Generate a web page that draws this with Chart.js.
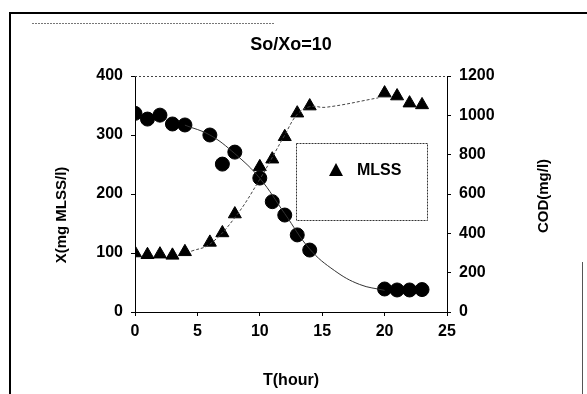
<!DOCTYPE html>
<html>
<head>
<meta charset="utf-8">
<script src="https://cdn.jsdelivr.net/npm/chart.js@4.4.0/dist/chart.umd.min.js"></script>
<style>
  body { margin: 0; background: #fff; }
  #wrap { width: 587px; height: 394px; }
</style>
</head>
<body>
<div id="wrap"><canvas id="grafico" width="587" height="394"></canvas></div>
<script>
// datos
const tiempoMLSS = [0, 1, 2, 3, 4, 6, 7, 8, 10, 11, 12, 13, 14, 20, 21, 22, 23];
const mlss = [100, 97, 98, 96, 102, 118, 134, 166, 246, 259, 297, 337, 349, 371, 366, 354, 351];

const tiempoCOD = [0, 1, 2, 3, 4, 6, 7, 8, 10, 11, 12, 13, 14, 20, 21, 22, 23];
const cod = [1010, 981, 1001, 956, 951, 900, 752, 813, 681, 561, 493, 392, 315, 117, 112, 112, 114];

// curvas de ajuste dibujadas en la figura
const tiempoAjusteMLSS = [4.5, 6, 8, 10, 12, 13, 14, 15.3, 19.5];
const ajusteMLSS = [103, 115, 160, 225, 300, 335, 348, 347, 363];
const tiempoAjusteCOD = [4, 6, 8, 10, 12, 14, 16, 18, 20];
const ajusteCOD = [950, 900, 805, 680, 500, 320, 210, 140, 110];

const ticksX = [0, 5, 10, 15, 20, 25];
const ticksIzq = [0, 100, 200, 300, 400];
const ticksDer = [0, 200, 400, 600, 800, 1000, 1200];

const pares = (xs, ys) => xs.map((x, i) => ({ x: x, y: ys[i] }));
const familia = '"Liberation Sans", Arial, sans-serif';

const decoracion = {
    id: 'decoracion',
    afterDraw(chart) {
        const c = chart.ctx;
        const a = chart.chartArea;
        c.save();
        // marco de la pagina escaneada
        c.strokeStyle = '#000';
        c.lineWidth = 2;
        c.beginPath();
        c.moveTo(10, 394); c.lineTo(10, 13); c.lineTo(587, 13);
        c.stroke();
        c.lineWidth = 1;
        c.strokeStyle = '#555';
        c.beginPath();
        c.moveTo(582.5, 262); c.lineTo(582.5, 394);
        c.stroke();
        c.setLineDash([2, 1]);
        c.strokeStyle = '#777';
        c.beginPath();
        c.moveTo(32, 23.5); c.lineTo(275, 23.5);
        c.stroke();
        // borde superior del area
        c.setLineDash([2, 2]);
        c.strokeStyle = '#444';
        c.beginPath();
        c.moveTo(a.left, a.top + 0.5); c.lineTo(a.right, a.top + 0.5);
        c.stroke();
        c.setLineDash([]);

        c.fillStyle = '#000';
        c.textAlign = 'center';
        c.textBaseline = 'middle';
        c.font = 'bold 18px ' + familia;
        c.fillText('So/Xo=10', 291, 45);
        c.font = 'bold 16px ' + familia;
        c.fillText('T(hour)', 291, 381);

        c.font = 'bold 15px ' + familia;
        c.save();
        c.translate(62, 215);
        c.rotate(-Math.PI / 2);
        c.fillText('X(mg MLSS/l)', 0, 0);
        c.restore();
        c.save();
        c.translate(544, 196);
        c.rotate(-Math.PI / 2);
        c.fillText('COD(mg/l)', 0, 0);
        c.restore();

        // leyenda
        c.strokeStyle = '#333';
        c.setLineDash([2, 1]);
        c.strokeRect(296.5, 143.5, 131, 77);
        c.setLineDash([]);
        c.beginPath();
        c.moveTo(336, 163); c.lineTo(343, 176); c.lineTo(329, 176);
        c.closePath();
        c.fill();
        c.textAlign = 'left';
        c.font = 'bold 16px ' + familia;
        c.fillText('MLSS', 357, 171);
        c.restore();
    }
};

const ejeComun = {
    grid: { drawOnChartArea: false, drawTicks: true, tickLength: 4, color: '#000' },
    border: { color: '#000', width: 1 },
    ticks: {
        color: '#000',
        font: { family: familia, size: 16, weight: 'bold' },
        padding: 8,
        callback: v => String(v)
    }
};

const ctx = document.getElementById('grafico').getContext('2d');
const grafico = new Chart(ctx, {
    type: 'scatter',
    data: {
        datasets: [
            {
                label: 'ajuste COD',
                data: pares(tiempoAjusteCOD, ajusteCOD),
                yAxisID: 'y2',
                showLine: true,
                tension: 0.4,
                borderColor: '#333',
                borderWidth: 1,
                pointRadius: 0
            },
            {
                label: 'ajuste MLSS',
                data: pares(tiempoAjusteMLSS, ajusteMLSS),
                yAxisID: 'y',
                showLine: true,
                tension: 0.4,
                borderColor: '#444',
                borderWidth: 1,
                borderDash: [3, 2],
                pointRadius: 0
            },
            {
                label: 'COD',
                data: pares(tiempoCOD, cod),
                yAxisID: 'y2',
                pointStyle: 'circle',
                pointRadius: 7,
                backgroundColor: '#000',
                borderColor: '#000'
            },
            {
                label: 'MLSS',
                data: pares(tiempoMLSS, mlss),
                yAxisID: 'y',
                pointStyle: 'triangle',
                pointRadius: 7.5,
                backgroundColor: '#000',
                borderColor: '#000'
            }
        ]
    },
    options: {
        responsive: false,
        animation: false,
        layout: { padding: { top: 76, left: 0, right: 0, bottom: 0 } },
        plugins: { legend: { display: false }, tooltip: { enabled: false } },
        scales: {
            x: {
                ...ejeComun,
                type: 'linear',
                min: 0, max: 25,
                afterBuildTicks: eje => { eje.ticks = ticksX.map(v => ({ value: v })); },
                afterFit: eje => { eje.height = 82; },
                ticks: { ...ejeComun.ticks, padding: 6 }
            },
            y: {
                ...ejeComun,
                position: 'left',
                min: 0, max: 400,
                afterBuildTicks: eje => { eje.ticks = ticksIzq.map(v => ({ value: v })); },
                afterFit: eje => { eje.width = 135; }
            },
            y2: {
                ...ejeComun,
                position: 'right',
                min: 0, max: 1200,
                afterBuildTicks: eje => { eje.ticks = ticksDer.map(v => ({ value: v })); },
                afterFit: eje => { eje.width = 140; }
            }
        }
    },
    plugins: [decoracion]
});
</script>
</body>
</html>
